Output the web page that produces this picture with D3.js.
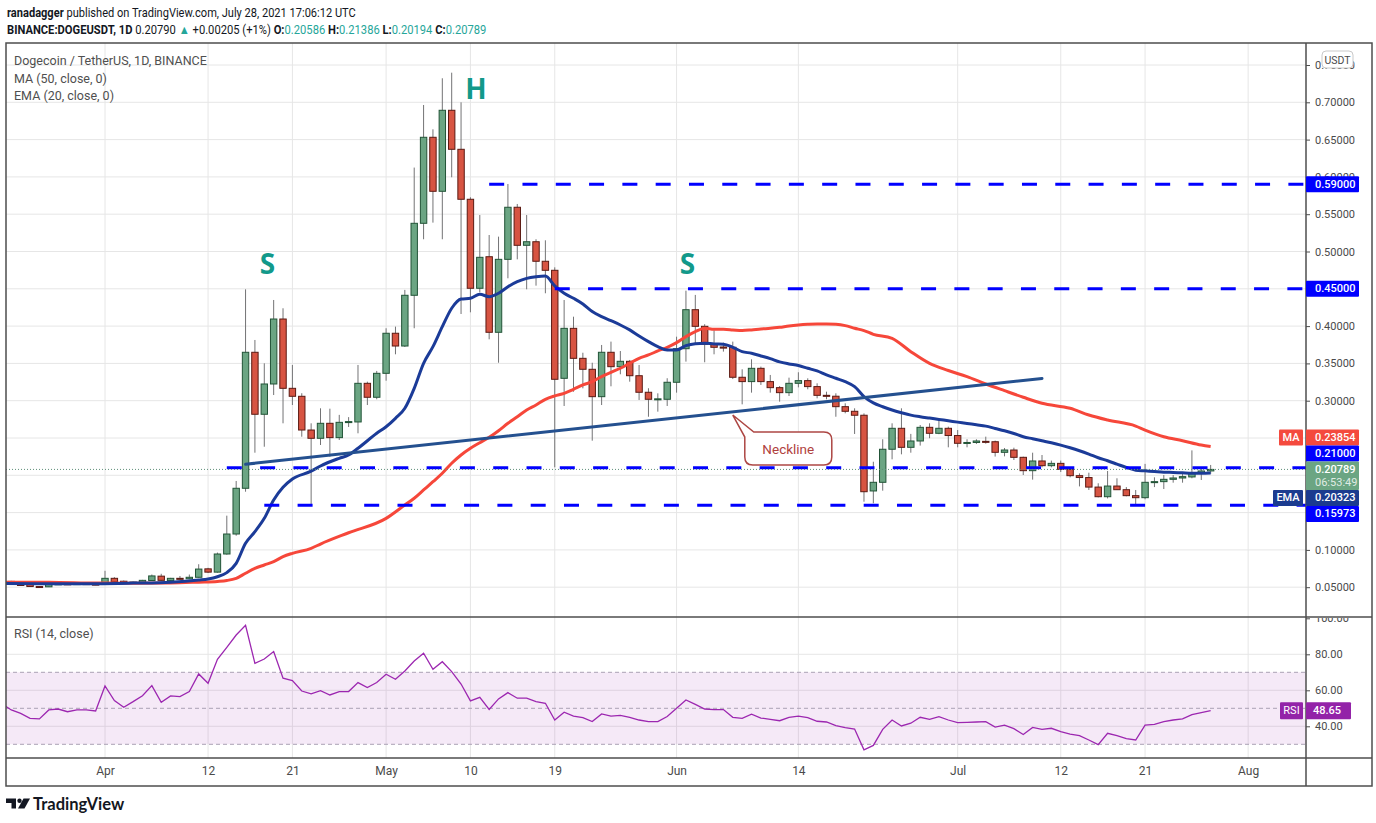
<!DOCTYPE html>
<html>
<head>
<meta charset="utf-8">
<script src="https://cdn.jsdelivr.net/npm/d3@7"></script>
<style>
  html, body { margin: 0; padding: 0; background: #fff; }
  svg { display: block; font-family: Roboto, "Noto Sans", sans-serif; }
</style>
</head>
<body>
<div id="chart-container"></div>
<script>
// Page and panel geometry.
const width = 1376;
const height = 823;
const frameLeft = 6;
const frameTop = 43;
const frameRight = 1372;
const frameBottom = 786;
const axisX = 1306;
const priceBottom = 617;
const rsiBottom = 758;

// Daily candles, starting 2021-03-22 (one value per day).
const candleStart = "2021-03-22";
const openValues = [
  0.0578, 0.0548, 0.0535, 0.0509, 0.0505, 0.0537, 0.0545, 0.0541, 0.0548, 0.0541,
  // April
  0.0536, 0.0619, 0.0580, 0.0550, 0.0565, 0.0590, 0.0648, 0.0588, 0.0619, 0.0613,
  0.0633, 0.0746, 0.0702, 0.0945, 0.1213, 0.1826, 0.3649, 0.2818, 0.3224, 0.4095,
  0.3166, 0.3059, 0.2607, 0.2496, 0.2697, 0.2505, 0.2710, 0.2715, 0.3233, 0.3046,
  // May
  0.3367, 0.3904, 0.3733, 0.4413, 0.5378, 0.6531, 0.5807, 0.6893, 0.6370, 0.5700,
  0.4507, 0.4930, 0.3917, 0.4895, 0.5593, 0.5083, 0.5131, 0.4869, 0.4748, 0.3300,
  0.3970, 0.3568, 0.3421, 0.3054, 0.3649, 0.3456, 0.3528, 0.3335, 0.3113, 0.3015, 0.3019,
  // June
  0.3247, 0.3697, 0.4220, 0.3997, 0.3756, 0.3720, 0.3716, 0.3314, 0.3256, 0.3434,
  0.3256, 0.3175, 0.3108, 0.3233, 0.3269, 0.3189, 0.3072, 0.3060, 0.2920, 0.2858,
  0.2805, 0.1790, 0.1906, 0.2349, 0.2630, 0.2375, 0.2460, 0.2643, 0.2563, 0.2630,
  // July
  0.2533, 0.2432, 0.2440, 0.2455, 0.2450, 0.2308, 0.2339, 0.2241, 0.2062, 0.2192,
  0.2129, 0.2160, 0.2080, 0.1995, 0.1970, 0.1842, 0.1713, 0.1856, 0.1807, 0.1727,
  0.1700, 0.1906, 0.1915, 0.1946, 0.1964, 0.1978, 0.2026, 0.20586
];
const highValues = [
  0.0585, 0.0556, 0.0545, 0.0515, 0.0540, 0.0550, 0.0552, 0.0552, 0.0555, 0.0548,
  0.0720, 0.0635, 0.0590, 0.0575, 0.0598, 0.0670, 0.0680, 0.0625, 0.0650, 0.0670,
  0.0808, 0.0760, 0.0964, 0.1459, 0.1924, 0.4493, 0.3814, 0.3501, 0.4350, 0.4239,
  0.3479, 0.3100, 0.2697, 0.2898, 0.2893, 0.2810, 0.2780, 0.3479, 0.3255, 0.3399,
  0.3971, 0.3993, 0.4485, 0.6125, 0.6964, 0.6638, 0.7322, 0.7397, 0.7000, 0.5727,
  0.5489, 0.5221, 0.5199, 0.5905, 0.5637, 0.5489, 0.5164, 0.5150, 0.4788, 0.4350,
  0.4126, 0.3643, 0.3509, 0.3747, 0.3792, 0.3666, 0.3546, 0.3479, 0.3167, 0.3099, 0.3301,
  0.3858, 0.4475, 0.4418, 0.4025, 0.3944, 0.3778, 0.3792, 0.3421, 0.3555, 0.3457,
  0.3345, 0.3197, 0.3309, 0.3381, 0.3300, 0.3233, 0.3121, 0.3099, 0.2965, 0.2898,
  0.2830, 0.2182, 0.2483, 0.2697, 0.2898, 0.2555, 0.2674, 0.2697, 0.2751, 0.2652,
  0.2607, 0.2483, 0.2483, 0.2518, 0.2465, 0.2366, 0.2370, 0.2250, 0.2303, 0.2272,
  0.2197, 0.2197, 0.2094, 0.2026, 0.2035, 0.1893, 0.2058, 0.1960, 0.1842, 0.1803,
  0.2153, 0.1973, 0.2004, 0.2004, 0.2035, 0.2334, 0.2094, 0.21386
];
const lowValues = [
  0.0540, 0.0520, 0.0505, 0.0497, 0.0502, 0.0530, 0.0535, 0.0535, 0.0537, 0.0528,
  0.0532, 0.0570, 0.0545, 0.0545, 0.0558, 0.0585, 0.0588, 0.0580, 0.0605, 0.0608,
  0.0628, 0.0690, 0.0695, 0.0935, 0.1190, 0.1780, 0.2303, 0.2383, 0.3076, 0.2697,
  0.2942, 0.2517, 0.1597, 0.2406, 0.2249, 0.2473, 0.2648, 0.2563, 0.2942, 0.3019,
  0.3268, 0.3622, 0.3720, 0.3971, 0.5164, 0.5387, 0.5164, 0.5995, 0.4162, 0.4185,
  0.4453, 0.3823, 0.3509, 0.4641, 0.4895, 0.4493, 0.4542, 0.4440, 0.2107, 0.2929,
  0.3121, 0.3166, 0.2464, 0.2942, 0.3193, 0.3354, 0.3255, 0.3010, 0.2785, 0.2853, 0.2929,
  0.3108, 0.3524, 0.3747, 0.3515, 0.3622, 0.3658, 0.3290, 0.2951, 0.3108, 0.3211,
  0.3108, 0.2987, 0.3063, 0.3179, 0.3153, 0.3032, 0.3019, 0.2785, 0.2831, 0.2554,
  0.1646, 0.1625, 0.1794, 0.2214, 0.2281, 0.2303, 0.2398, 0.2497, 0.2551, 0.2375,
  0.2375, 0.2375, 0.2420, 0.2424, 0.2251, 0.2254, 0.2205, 0.2004, 0.1942, 0.2107,
  0.2107, 0.2044, 0.1973, 0.1851, 0.1803, 0.1704, 0.1690, 0.1803, 0.1718, 0.1597,
  0.1678, 0.1842, 0.1816, 0.1901, 0.1901, 0.1960, 0.1937, 0.20194
];
const closeValues = [
  0.0546, 0.0523, 0.0509, 0.0503, 0.0537, 0.0545, 0.0541, 0.0548, 0.0541, 0.0536,
  0.0619, 0.0573, 0.0550, 0.0569, 0.0592, 0.0651, 0.0592, 0.0619, 0.0611, 0.0633,
  0.0743, 0.0702, 0.0945, 0.1213, 0.1826, 0.3649, 0.2818, 0.3224, 0.4095, 0.3166,
  0.3059, 0.2607, 0.2496, 0.2697, 0.2505, 0.2710, 0.2720, 0.3233, 0.3046, 0.3367,
  0.3904, 0.3733, 0.4413, 0.5378, 0.6531, 0.5807, 0.6893, 0.6370, 0.5700, 0.4507,
  0.4922, 0.3917, 0.4895, 0.5593, 0.5083, 0.5131, 0.4869, 0.4748, 0.3287, 0.3970,
  0.3568, 0.3421, 0.3054, 0.3649, 0.3456, 0.3528, 0.3335, 0.3113, 0.3019, 0.3025, 0.3247,
  0.3697, 0.4220, 0.3997, 0.3756, 0.3716, 0.3705, 0.3314, 0.3256, 0.3434, 0.3256,
  0.3175, 0.3108, 0.3233, 0.3269, 0.3189, 0.3072, 0.3060, 0.2920, 0.2858, 0.2805,
  0.1780, 0.1906, 0.2349, 0.2630, 0.2375, 0.2460, 0.2643, 0.2563, 0.2630, 0.2533,
  0.2429, 0.2440, 0.2460, 0.2450, 0.2308, 0.2339, 0.2241, 0.2062, 0.2192, 0.2129,
  0.2160, 0.2080, 0.1995, 0.1970, 0.1842, 0.1713, 0.1856, 0.1807, 0.1727, 0.1700,
  0.1906, 0.1915, 0.1946, 0.1964, 0.1982, 0.2026, 0.2058, 0.20789
];

// EMA (20) and MA (50): [date, value].
const emaPoints = [
  ["2021-03-21", 0.0550], ["2021-03-26", 0.0546], ["2021-03-31", 0.0547], ["2021-04-04", 0.0555],
  ["2021-04-08", 0.0568], ["2021-04-11", 0.0596], ["2021-04-12", 0.0610], ["2021-04-13", 0.0640],
  ["2021-04-14", 0.0695], ["2021-04-15", 0.0820], ["2021-04-16", 0.1088], ["2021-04-17", 0.1244],
  ["2021-04-18", 0.1423], ["2021-04-19", 0.1669], ["2021-04-20", 0.1839], ["2021-04-21", 0.1950],
  ["2021-04-23", 0.2055], ["2021-04-24", 0.2125], ["2021-04-26", 0.2228], ["2021-04-27", 0.2272],
  ["2021-04-28", 0.2362], ["2021-04-30", 0.2563], ["2021-05-01", 0.2651], ["2021-05-02", 0.2764],
  ["2021-05-03", 0.2898], ["2021-05-04", 0.3166], ["2021-05-05", 0.3501], ["2021-05-06", 0.3724],
  ["2021-05-07", 0.3992], ["2021-05-08", 0.4239], ["2021-05-09", 0.4363], ["2021-05-10", 0.4373],
  ["2021-05-11", 0.4426], ["2021-05-12", 0.4394], ["2021-05-13", 0.4440], ["2021-05-14", 0.4528],
  ["2021-05-15", 0.4595], ["2021-05-16", 0.4640], ["2021-05-17", 0.4662], ["2021-05-18", 0.4672],
  ["2021-05-19", 0.4538], ["2021-05-20", 0.4440], ["2021-05-21", 0.4373], ["2021-05-22", 0.4297],
  ["2021-05-23", 0.4195], ["2021-05-24", 0.4128], ["2021-05-25", 0.4073], ["2021-05-26", 0.4015],
  ["2021-05-27", 0.3949], ["2021-05-28", 0.3868], ["2021-05-29", 0.3792], ["2021-05-30", 0.3725],
  ["2021-05-31", 0.3680], ["2021-06-01", 0.3680], ["2021-06-02", 0.3738], ["2021-06-03", 0.3765],
  ["2021-06-04", 0.3770], ["2021-06-05", 0.3761], ["2021-06-06", 0.3757], ["2021-06-07", 0.3716],
  ["2021-06-08", 0.3658], ["2021-06-09", 0.3636], ["2021-06-10", 0.3600], ["2021-06-11", 0.3564],
  ["2021-06-12", 0.3520], ["2021-06-13", 0.3493], ["2021-06-14", 0.3471], ["2021-06-15", 0.3435],
  ["2021-06-16", 0.3399], ["2021-06-17", 0.3346], ["2021-06-18", 0.3301], ["2021-06-19", 0.3256],
  ["2021-06-20", 0.3189], ["2021-06-21", 0.3055], ["2021-06-22", 0.2970], ["2021-06-23", 0.2919],
  ["2021-06-24", 0.2875], ["2021-06-25", 0.2839], ["2021-06-26", 0.2807], ["2021-06-27", 0.2785],
  ["2021-06-28", 0.2767], ["2021-06-29", 0.2749], ["2021-06-30", 0.2731], ["2021-07-01", 0.2713],
  ["2021-07-02", 0.2695], ["2021-07-03", 0.2677], ["2021-07-04", 0.2659], ["2021-07-05", 0.2628],
  ["2021-07-06", 0.2597], ["2021-07-07", 0.2561], ["2021-07-08", 0.2517], ["2021-07-09", 0.2490],
  ["2021-07-10", 0.2463], ["2021-07-11", 0.2436], ["2021-07-12", 0.2405], ["2021-07-13", 0.2369],
  ["2021-07-14", 0.2329], ["2021-07-15", 0.2284], ["2021-07-16", 0.2235], ["2021-07-17", 0.2195],
  ["2021-07-18", 0.2150], ["2021-07-19", 0.2105], ["2021-07-20", 0.2069], ["2021-07-21", 0.2060],
  ["2021-07-22", 0.2051], ["2021-07-23", 0.2042], ["2021-07-24", 0.2038], ["2021-07-25", 0.2033],
  ["2021-07-26", 0.2029], ["2021-07-27", 0.2029], ["2021-07-28", 0.20323]
];
const maPoints = [
  ["2021-03-21", 0.0568], ["2021-03-26", 0.0566], ["2021-03-31", 0.0556], ["2021-04-04", 0.0553],
  ["2021-04-08", 0.0556], ["2021-04-11", 0.0568], ["2021-04-13", 0.0578], ["2021-04-14", 0.0590],
  ["2021-04-15", 0.0619], ["2021-04-16", 0.0687], ["2021-04-17", 0.0753], ["2021-04-18", 0.0798],
  ["2021-04-19", 0.0842], ["2021-04-20", 0.0909], ["2021-04-21", 0.0954], ["2021-04-23", 0.1021],
  ["2021-04-24", 0.1079], ["2021-04-27", 0.1230], ["2021-05-01", 0.1423], ["2021-05-03", 0.1602],
  ["2021-05-04", 0.1692], ["2021-05-05", 0.1803], ["2021-05-06", 0.1914], ["2021-05-07", 0.2027],
  ["2021-05-08", 0.2161], ["2021-05-09", 0.2272], ["2021-05-10", 0.2362], ["2021-05-11", 0.2437],
  ["2021-05-12", 0.2509], ["2021-05-13", 0.2598], ["2021-05-14", 0.2697], ["2021-05-15", 0.2785],
  ["2021-05-16", 0.2875], ["2021-05-17", 0.2942], ["2021-05-18", 0.3019], ["2021-05-19", 0.3065],
  ["2021-05-20", 0.3099], ["2021-05-21", 0.3153], ["2021-05-22", 0.3211], ["2021-05-23", 0.3256],
  ["2021-05-24", 0.3323], ["2021-05-25", 0.3381], ["2021-05-26", 0.3435], ["2021-05-27", 0.3502],
  ["2021-05-28", 0.3569], ["2021-05-29", 0.3613], ["2021-05-30", 0.3667], ["2021-05-31", 0.3716],
  ["2021-06-01", 0.3779], ["2021-06-02", 0.3859], ["2021-06-03", 0.3926], ["2021-06-04", 0.3971],
  ["2021-06-05", 0.3957], ["2021-06-06", 0.3957], ["2021-06-07", 0.3949], ["2021-06-08", 0.3940],
  ["2021-06-09", 0.3949], ["2021-06-10", 0.3962], ["2021-06-11", 0.3970], ["2021-06-12", 0.3984],
  ["2021-06-13", 0.4002], ["2021-06-14", 0.4015], ["2021-06-15", 0.4024], ["2021-06-16", 0.4029],
  ["2021-06-17", 0.4029], ["2021-06-18", 0.4024], ["2021-06-19", 0.4006], ["2021-06-20", 0.3971],
  ["2021-06-21", 0.3940], ["2021-06-22", 0.3890], ["2021-06-24", 0.3836], ["2021-06-26", 0.3657],
  ["2021-06-28", 0.3500], ["2021-06-30", 0.3405], ["2021-07-02", 0.3322], ["2021-07-04", 0.3224],
  ["2021-07-06", 0.3134], ["2021-07-08", 0.3046], ["2021-07-10", 0.2965], ["2021-07-13", 0.2898],
  ["2021-07-15", 0.2808], ["2021-07-17", 0.2741], ["2021-07-20", 0.2660], ["2021-07-21", 0.2607],
  ["2021-07-23", 0.2517], ["2021-07-25", 0.2464], ["2021-07-27", 0.2405], ["2021-07-28", 0.23854]
];

// RSI (14), one value per day starting 2021-03-21.
const rsiStart = "2021-03-21";
const rsiValues = [
  52.5, 49.1, 47.2, 44.4, 44.1, 49.1, 49.6, 48.1, 49.1, 49.1, 48.5,
  62.4, 54.3, 50.6, 53.7, 57.0, 62.6, 53.3, 56.9, 56.5, 59.3,
  69.1, 63.9, 77.2, 83.9, 90.7, 96.1, 75.0, 77.4, 81.5, 66.7,
  65.4, 59.6, 58.0, 59.8, 57.4, 59.3, 59.3, 64.3, 61.5, 64.3,
  68.9, 66.1, 70.7, 76.3, 80.6, 71.7, 75.9, 70.4, 63.5, 54.1,
  56.1, 49.4, 55.2, 58.7, 55.6, 55.6, 53.7, 52.8, 43.5, 47.8,
  45.7, 44.8, 42.6, 46.9, 45.7, 46.1, 45.0, 43.5, 42.6, 42.6, 45.4,
  50.0, 54.6, 52.2, 49.6, 49.3, 49.3, 45.0, 44.4, 46.7, 44.6,
  43.9, 43.1, 45.0, 45.7, 44.8, 42.8, 42.4, 40.4, 39.3, 38.5,
  26.9, 29.4, 38.3, 43.5, 40.2, 41.7, 45.0, 43.9, 45.4, 43.5,
  42.0, 42.2, 42.4, 42.6, 39.6, 40.6, 38.7, 35.4, 39.4, 38.3,
  38.9, 37.0, 35.6, 34.8, 32.4, 29.8, 36.1, 34.8, 33.1, 32.4,
  40.7, 41.1, 42.6, 43.5, 44.1, 46.5, 47.6, 48.65
];

// Axis ticks and labels.
const priceTicks = [0.05, 0.10, 0.15, 0.20, 0.25, 0.30, 0.35, 0.40, 0.45, 0.50, 0.55, 0.60, 0.65, 0.70, 0.75];
const rsiTicks = [100, 80, 60, 40];
const rsiGrid = [80, 60, 40];
const rsiDashed = [70, 50, 30];
const dateTicks = ["2021-04-01", "2021-04-12", "2021-04-21", "2021-05-01", "2021-05-10", "2021-05-19",
                   "2021-06-01", "2021-06-14", "2021-07-01", "2021-07-12", "2021-07-21", "2021-08-01"];
const dateLabels = ["Apr", "12", "21", "May", "10", "19", "Jun", "14", "Jul", "12", "21", "Aug"];

// Drawings: horizontal levels, neckline, pattern letters, callout.
const levelPrices = [0.59, 0.45, 0.21, 0.15973];
const levelFrom = ["2021-05-12", "2021-05-19", "2021-04-14", "2021-04-18"];
const neckline = [["2021-04-16", 0.2148], ["2021-07-10", 0.3298]];
const patternText = ["S", "H", "S"];
const patternDates = ["2021-04-18T08:00:00Z", "2021-05-10T14:00:00Z", "2021-06-02T04:00:00Z"];
const patternPrices = [0.485, 0.7195, 0.485];
const calloutTip = ["2021-06-07", 0.2808];
const lastPrice = 0.20789;

const parse = s => new Date(s.length > 10 ? s : s + "T00:00:00Z");
const candleDays = d3.utcDay.range(parse(candleStart), parse("2021-07-29"));
const candles = candleDays.map((d, i) => ({
  date: d, o: openValues[i], h: highValues[i], l: lowValues[i], c: closeValues[i]
}));
const rsiDays = d3.utcDay.range(parse(rsiStart), parse("2021-07-29"));
const rsiData = rsiDays.map((d, i) => ({ date: d, v: rsiValues[i] }));

// Scales.
const dayW = 9.37;
const x = d3.scaleUtc()
    .domain([parse("2021-04-01"), parse("2021-08-01")])
    .range([105, 105 + 122 * dayW]);
const y = d3.scaleLinear().domain([0.05, 0.70]).range([587.2, 102.3]);
const yr = d3.scaleLinear().domain([40, 80]).range([726.3, 654.3]);

const svg = d3.create("svg")
    .attr("width", width)
    .attr("height", height)
    .attr("viewBox", [0, 0, width, height]);

svg.append("rect").attr("width", width).attr("height", height).attr("fill", "#fff");

const defs = svg.append("defs");
defs.append("clipPath").attr("id", "clip-price").append("rect")
    .attr("x", frameLeft).attr("y", frameTop)
    .attr("width", axisX - frameLeft).attr("height", priceBottom - frameTop);
defs.append("clipPath").attr("id", "clip-rsi").append("rect")
    .attr("x", frameLeft).attr("y", priceBottom)
    .attr("width", axisX - frameLeft).attr("height", rsiBottom - priceBottom);
defs.append("clipPath").attr("id", "clip-rsi-axis").append("rect")
    .attr("x", axisX).attr("y", priceBottom + 1)
    .attr("width", frameRight - axisX).attr("height", rsiBottom - priceBottom - 1);

// Header (slightly condensed to match the narrow original face).
const header = svg.append("g").attr("fill", "#131722").style("font-size", "12.5px");
const h1 = header.append("text").attr("transform", "translate(7,17) scale(0.885,1)");
h1.append("tspan").attr("font-weight", 700).text("ranadagger");
h1.append("tspan").text(" published on TradingView.com, July 28, 2021 17:06:12 UTC");
const h2 = header.append("text").attr("transform", "translate(7,34) scale(0.895,1)");
const teal = "#26a69a";
[
  ["BINANCE:DOGEUSDT, 1D", 700, null], [" 0.20790 ", 400, null], ["▲", 400, teal],
  [" +0.00205 (+1%) ", 400, null], ["O:", 700, null], ["0.20586", 400, teal],
  [" H:", 700, null], ["0.21386", 400, teal], [" L:", 700, null], ["0.20194", 400, teal],
  [" C:", 700, null], ["0.20789", 400, teal]
].forEach(([t, w, c]) => {
  const s = h2.append("tspan").attr("font-weight", w).text(t);
  if (c) s.attr("fill", c);
});

// Grid.
const grid = svg.append("g").attr("stroke", "#e6e6e6").attr("stroke-width", 1);
grid.selectAll(".gp").data(priceTicks).join("line")
    .attr("x1", frameLeft).attr("x2", axisX)
    .attr("y1", d => y(d)).attr("y2", d => y(d));
grid.selectAll(".gr").data(rsiGrid).join("line")
    .attr("x1", frameLeft).attr("x2", axisX)
    .attr("y1", d => yr(d)).attr("y2", d => yr(d));
grid.selectAll(".gv").data(dateTicks).join("line")
    .attr("x1", d => x(parse(d))).attr("x2", d => x(parse(d)))
    .attr("y1", frameTop).attr("y2", rsiBottom);

// RSI background band and dashed levels.
const rsiG = svg.append("g").attr("clip-path", "url(#clip-rsi)");
rsiG.append("rect")
    .attr("x", frameLeft).attr("width", axisX - frameLeft)
    .attr("y", yr(70)).attr("height", yr(30) - yr(70))
    .attr("fill", "#9c27b0").attr("fill-opacity", 0.1);
rsiG.selectAll(".rd").data(rsiDashed).join("line")
    .attr("x1", frameLeft).attr("x2", axisX)
    .attr("y1", d => yr(d)).attr("y2", d => yr(d))
    .attr("stroke", "#aba2b4").attr("stroke-dasharray", "4,3");
rsiG.append("path")
    .datum(rsiData)
    .attr("fill", "none")
    .attr("stroke", "#9c27b0")
    .attr("stroke-width", 1.3)
    .attr("d", d3.line().x(d => x(d.date)).y(d => yr(d.v)));

// Candles.
const priceG = svg.append("g").attr("clip-path", "url(#clip-price)");
const bodyW = 6.4;
const cg = priceG.append("g");
cg.selectAll("line").data(candles).join("line")
    .attr("x1", d => x(d.date)).attr("x2", d => x(d.date))
    .attr("y1", d => y(d.h)).attr("y2", d => y(d.l))
    .attr("stroke", "#737375").attr("stroke-width", 1);
cg.selectAll("rect").data(candles).join("rect")
    .attr("x", d => x(d.date) - bodyW / 2)
    .attr("width", bodyW)
    .attr("y", d => y(Math.max(d.o, d.c)))
    .attr("height", d => Math.max(1, Math.abs(y(d.o) - y(d.c))))
    .attr("fill", d => d.c >= d.o ? "#6ba583" : "#d75442")
    .attr("stroke", d => d.c >= d.o ? "#225437" : "#5b1a13")
    .attr("stroke-width", 1);

// Moving averages.
const avgLine = d3.line()
    .x(d => x(parse(d[0])))
    .y(d => y(d[1]))
    .curve(d3.curveMonotoneX);
priceG.append("path").datum(maPoints)
    .attr("fill", "none").attr("stroke", "#f6473a").attr("stroke-width", 3)
    .attr("stroke-linejoin", "round").attr("d", avgLine);
priceG.append("path").datum(emaPoints)
    .attr("fill", "none").attr("stroke", "#1b3b98").attr("stroke-width", 3)
    .attr("stroke-linejoin", "round").attr("d", avgLine);

// Horizontal levels.
priceG.selectAll(".lvl").data(levelPrices).join("line")
    .attr("x1", (d, i) => x(parse(levelFrom[i]))).attr("x2", axisX)
    .attr("y1", d => y(d)).attr("y2", d => y(d))
    .attr("stroke", "#0000ff").attr("stroke-width", 3)
    .attr("stroke-dasharray", "15,18.3");

// Neckline.
priceG.append("line")
    .attr("x1", x(parse(neckline[0][0]))).attr("y1", y(neckline[0][1]))
    .attr("x2", x(parse(neckline[1][0]))).attr("y2", y(neckline[1][1]))
    .attr("stroke", "#24508f").attr("stroke-width", 3).attr("stroke-linecap", "round");

// Last price dotted line.
priceG.append("line")
    .attr("x1", frameLeft).attr("x2", axisX)
    .attr("y1", y(lastPrice)).attr("y2", y(lastPrice))
    .attr("stroke", "#5f8f79").attr("stroke-dasharray", "1,2");

// Pattern letters.
priceG.selectAll(".pat").data(patternText).join("text")
    .attr("x", (d, i) => x(parse(patternDates[i])))
    .attr("y", (d, i) => y(patternPrices[i]))
    .attr("text-anchor", "middle").attr("dominant-baseline", "central")
    .attr("fill", "#12998a").attr("font-weight", 700)
    .style("font-size", "28px").style("font-family", "'Open Sans', sans-serif")
    .text(d => d);

// Neckline callout.
const tx = x(parse(calloutTip[0])), ty = y(calloutTip[1]);
const bx0 = tx + 12, by0 = ty + 17, bx1 = bx0 + 87, by1 = by0 + 33, r = 8;
priceG.append("path")
    .attr("d", `M${bx0 + 9},${by0} L${bx1 - r},${by0} Q${bx1},${by0} ${bx1},${by0 + r}
      L${bx1},${by1 - r} Q${bx1},${by1} ${bx1 - r},${by1} L${bx0 + r},${by1}
      Q${bx0},${by1} ${bx0},${by1 - r} L${bx0},${by0 + 5} L${tx},${ty} Z`)
    .attr("fill", "#fff").attr("stroke", "#ad4744").attr("stroke-width", 1.5);
priceG.append("text")
    .attr("x", (bx0 + bx1) / 2).attr("y", (by0 + by1) / 2)
    .attr("text-anchor", "middle").attr("dominant-baseline", "central")
    .attr("fill", "#b0413d").style("font-size", "13.5px")
    .text("Neckline");

// Legend.
const legend = svg.append("g").attr("fill", "#4f4f4f").style("font-size", "12.5px");
legend.append("text").attr("x", 14).attr("y", 65).text("Dogecoin / TetherUS, 1D, BINANCE");
legend.append("text").attr("x", 14).attr("y", 82.5).text("MA (50, close, 0)");
legend.append("text").attr("x", 14).attr("y", 100).text("EMA (20, close, 0)");
svg.append("text").attr("x", 14).attr("y", 638).attr("fill", "#4f4f4f")
    .style("font-size", "12.5px").text("RSI (14, close)");

// Frame and separators.
const frame = svg.append("g").attr("stroke", "#4e4e4e").attr("stroke-width", 1.5).attr("fill", "none");
frame.append("rect").attr("x", frameLeft).attr("y", frameTop)
    .attr("width", frameRight - frameLeft).attr("height", frameBottom - frameTop);
frame.append("line").attr("x1", frameLeft).attr("x2", frameRight).attr("y1", priceBottom).attr("y2", priceBottom);
frame.append("line").attr("x1", frameLeft).attr("x2", frameRight).attr("y1", rsiBottom).attr("y2", rsiBottom);
frame.append("line").attr("x1", axisX).attr("x2", axisX).attr("y1", frameTop).attr("y2", frameBottom);

// Price badges on the right, stacked so they do not overlap.
const badges = [
  { v: 0.59, text: "0.59000", fill: "#0000ff" },
  { v: 0.45, text: "0.45000", fill: "#0000ff" },
  { v: 0.23854, text: "0.23854", fill: "#f44a3e", tag: "MA", tagW: 24 },
  { v: 0.21, text: "0.21000", fill: "#0000ff" },
  { v: lastPrice, text: "0.20789", sub: "06:53:49", fill: "#6ba583", main: true },
  { v: 0.20323, text: "0.20323", fill: "#1b3b8f", tag: "EMA", tagW: 30 },
  { v: 0.15973, text: "0.15973", fill: "#0000ff" }
];
const bh = 16;
badges.forEach(b => {
  b.h = b.sub ? 28.5 : bh;
  b.top = b.main ? y(b.v) - 8 : y(b.v) - bh / 2;
});
const mainIdx = badges.findIndex(b => b.main);
for (let i = mainIdx - 1; i >= 0; i--) {
  const below = badges[i + 1];
  if (badges[i].top + badges[i].h > below.top) badges[i].top = below.top - badges[i].h;
}
for (let i = mainIdx + 1; i < badges.length; i++) {
  const above = badges[i - 1];
  if (badges[i].top < above.top + above.h) badges[i].top = above.top + above.h;
}
// An axis label is left out when a badge covers it completely.
const hidden = v => badges.some(b => y(v) - 4 >= b.top && y(v) + 4 <= b.top + b.h);

// Price axis.
const yAxisG = svg.append("g")
    .attr("transform", `translate(${axisX},0)`)
    .call(d3.axisRight(y).tickValues(priceTicks.filter(v => !hidden(v)))
      .tickFormat(d3.format(".5f")).tickSize(4).tickPadding(5));
yAxisG.select(".domain").remove();
yAxisG.selectAll("line").attr("stroke", "#4e4e4e");
yAxisG.selectAll("text").attr("fill", "#4a4a4a").style("font-size", "11px").style("font-family", "Roboto, sans-serif");

// RSI axis.
const rAxisG = svg.append("g")
    .attr("clip-path", "url(#clip-rsi-axis)")
    .append("g")
    .attr("transform", `translate(${axisX},0)`)
    .call(d3.axisRight(yr).tickValues(rsiTicks).tickFormat(d3.format(".2f")).tickSize(4).tickPadding(5));
rAxisG.select(".domain").remove();
rAxisG.selectAll("line").attr("stroke", "#4e4e4e");
rAxisG.selectAll("text").attr("fill", "#4a4a4a").style("font-size", "11px").style("font-family", "Roboto, sans-serif");

// Time axis.
const xAxisG = svg.append("g")
    .attr("transform", `translate(0,${rsiBottom})`)
    .call(d3.axisBottom(x).tickValues(dateTicks.map(parse))
      .tickFormat((d, i) => dateLabels[i]).tickSize(0).tickPadding(8));
xAxisG.select(".domain").remove();
xAxisG.selectAll("text").attr("fill", "#4a4a4a").style("font-size", "12px").style("font-family", "Roboto, sans-serif");

// "USDT" currency box over the top label.
svg.append("rect").attr("x", 1322).attr("y", 51).attr("width", 31).attr("height", 17).attr("rx", 4)
    .attr("fill", "#fff").attr("stroke", "#c9c9c9");
svg.append("text").attr("x", 1337.5).attr("y", 60).attr("text-anchor", "middle")
    .attr("dominant-baseline", "central").attr("fill", "#4a4a4a").style("font-size", "10.5px").text("USDT");

const bg = svg.append("g").style("font-size", "11px").style("font-family", "Roboto, sans-serif");
badges.forEach(b => {
  bg.append("rect").attr("x", axisX).attr("y", b.top).attr("width", 53).attr("height", b.h)
      .attr("fill", b.fill).attr("rx", 1);
  bg.append("text").attr("x", axisX + 9).attr("y", b.top + 8).attr("dominant-baseline", "central")
      .attr("fill", "#fff").attr("font-weight", 500).text(b.text);
  if (b.sub) {
    bg.append("text").attr("x", axisX + 9).attr("y", b.top + 21).attr("dominant-baseline", "central")
        .attr("fill", "#fff").attr("fill-opacity", 0.8).text(b.sub);
  }
  if (b.tag) {
    bg.append("rect").attr("x", axisX - 3 - b.tagW).attr("y", b.top).attr("width", b.tagW).attr("height", b.h)
        .attr("fill", b.fill).attr("rx", 1);
    bg.append("text").attr("x", axisX - 3 - b.tagW / 2).attr("y", b.top + 8)
        .attr("text-anchor", "middle").attr("dominant-baseline", "central")
        .attr("fill", "#fff").attr("font-weight", 500).text(b.tag);
  }
});

// RSI badge.
const lastRsi = rsiValues[rsiValues.length - 1];
const rTop = yr(lastRsi) - 8.5;
bg.append("rect").attr("x", axisX - 26).attr("y", rTop).attr("width", 23).attr("height", 17).attr("fill", "#9323a8").attr("rx", 1);
bg.append("text").attr("x", axisX - 14.5).attr("y", rTop + 8.5).attr("text-anchor", "middle")
    .attr("dominant-baseline", "central").attr("fill", "#fff").text("RSI");
bg.append("rect").attr("x", axisX).attr("y", rTop).attr("width", 45).attr("height", 17).attr("fill", "#9323a8").attr("rx", 1);
bg.append("text").attr("x", axisX + 7).attr("y", rTop + 8.5)
    .attr("dominant-baseline", "central").attr("fill", "#fff").attr("font-weight", 500).text(d3.format(".2f")(lastRsi));

// TradingView logo.
const logo = svg.append("g").attr("fill", "#131722");
logo.append("path").attr("d", "M6,798.5 H16 V808.5 H11.5 V803 H6 Z");
logo.append("circle").attr("cx", 19.5).attr("cy", 800.8).attr("r", 2.2);
logo.append("path").attr("d", "M23.5,798.5 H30 L24.5,808.5 H18 Z");
logo.append("text").attr("x", 33).attr("y", 809.5).attr("font-weight", 700)
    .style("font-size", "16.5px").style("font-family", "Lato, Roboto, sans-serif").text("TradingView");

d3.select("#chart-container").append(() => svg.node());
</script>
</body>
</html>
